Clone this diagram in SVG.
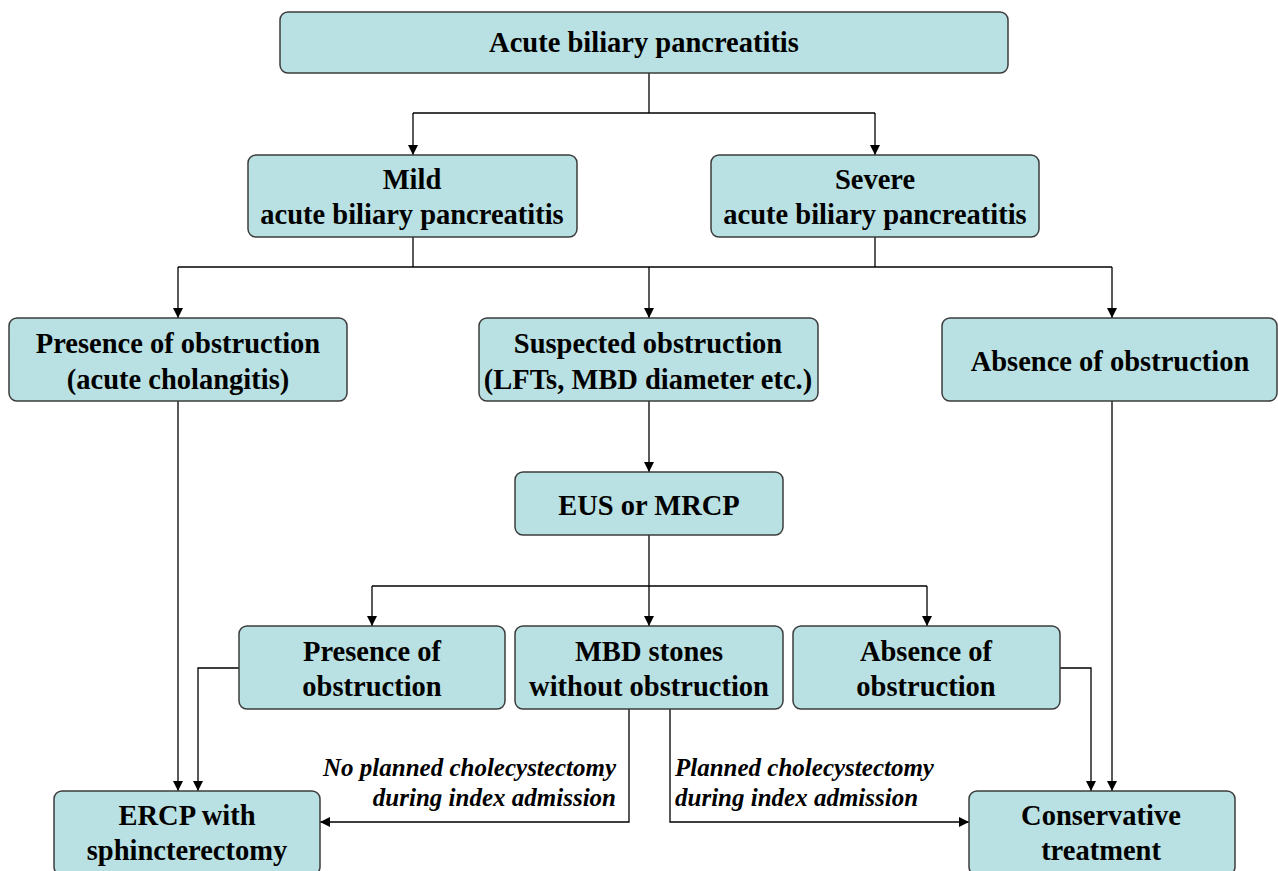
<svg xmlns="http://www.w3.org/2000/svg" width="1278" height="871" viewBox="0 0 1278 871">
<defs>
<marker id="arr" viewBox="0 0 10 10" refX="10" refY="5" markerWidth="10" markerHeight="10" markerUnits="userSpaceOnUse" orient="auto">
<path d="M0,0 L10,5 L0,10 Z" fill="#000"/>
</marker>
<style>
.box{fill:#b9e0e2;stroke:#3c3c3c;stroke-width:1.5}
.t{font-family:"Liberation Serif","Times New Roman",serif;font-weight:bold;font-size:28.5px;fill:#000;text-anchor:middle}
.lab{font-family:"Liberation Serif","Times New Roman",serif;font-weight:bold;font-style:italic;font-size:25px;fill:#000}
.c{fill:none;stroke:#000;stroke-width:1.3}
</style>
</defs>
<rect width="1278" height="871" fill="#fff"/>
<g id="connectors">
<path class="c" d="M649,73 V113"/>
<path class="c" d="M413,113 H875"/>
<path class="c" d="M413,113 V155" marker-end="url(#arr)"/>
<path class="c" d="M875,113 V155" marker-end="url(#arr)"/>
<path class="c" d="M413,237 V267"/>
<path class="c" d="M875,237 V267"/>
<path class="c" d="M178,267 H1112"/>
<path class="c" d="M178,267 V318" marker-end="url(#arr)"/>
<path class="c" d="M649,267 V318" marker-end="url(#arr)"/>
<path class="c" d="M1112,267 V318" marker-end="url(#arr)"/>
<path class="c" d="M649,401 V472" marker-end="url(#arr)"/>
<path class="c" d="M649,535 V586"/>
<path class="c" d="M372,586 H927"/>
<path class="c" d="M372,586 V626" marker-end="url(#arr)"/>
<path class="c" d="M649,586 V626" marker-end="url(#arr)"/>
<path class="c" d="M927,586 V626" marker-end="url(#arr)"/>
<path class="c" d="M178,401 V791" marker-end="url(#arr)"/>
<path class="c" d="M239,668 H198 V791" marker-end="url(#arr)"/>
<path class="c" d="M629,709 V822 H320" marker-end="url(#arr)"/>
<path class="c" d="M670,709 V822 H969" marker-end="url(#arr)"/>
<path class="c" d="M1060,668 H1091 V791" marker-end="url(#arr)"/>
<path class="c" d="M1112,401 V791" marker-end="url(#arr)"/>
<text class="lab" x="616" y="776" text-anchor="end">No planned cholecystectomy</text>
<text class="lab" x="616" y="806" text-anchor="end">during index admission</text>
<text class="lab" x="675" y="776">Planned cholecystectomy</text>
<text class="lab" x="675" y="806">during index admission</text>
</g>
<g id="n-acute">
<rect class="box" x="280" y="12" width="728" height="61" rx="8"/>
<text class="t" x="644" y="52">Acute biliary pancreatitis</text>
</g>
<g id="n-mild">
<rect class="box" x="248" y="155" width="329" height="82" rx="8"/>
<text class="t" x="412" y="189">Mild</text>
<text class="t" x="412" y="224">acute biliary pancreatitis</text>
</g>
<g id="n-severe">
<rect class="box" x="711" y="155" width="328" height="82" rx="8"/>
<text class="t" x="875" y="189">Severe</text>
<text class="t" x="875" y="224">acute biliary pancreatitis</text>
</g>
<g id="n-presence1">
<rect class="box" x="9" y="318" width="338" height="83" rx="8"/>
<text class="t" x="178" y="353">Presence of obstruction</text>
<text class="t" x="178" y="389">(acute cholangitis)</text>
</g>
<g id="n-suspected">
<rect class="box" x="479" y="318" width="339" height="83" rx="8"/>
<text class="t" x="648" y="353">Suspected obstruction</text>
<text class="t" x="648" y="389">(LFTs, MBD diameter etc.)</text>
</g>
<g id="n-absence1">
<rect class="box" x="942" y="318" width="335" height="83" rx="8"/>
<text class="t" x="1110" y="371">Absence of obstruction</text>
</g>
<g id="n-eus">
<rect class="box" x="515" y="472" width="268" height="63" rx="8"/>
<text class="t" x="649" y="515">EUS or MRCP</text>
</g>
<g id="n-presence2">
<rect class="box" x="239" y="626" width="266" height="83" rx="8"/>
<text class="t" x="372" y="661">Presence of</text>
<text class="t" x="372" y="696">obstruction</text>
</g>
<g id="n-mbd">
<rect class="box" x="515" y="626" width="268" height="83" rx="8"/>
<text class="t" x="649" y="661">MBD stones</text>
<text class="t" x="649" y="696">without obstruction</text>
</g>
<g id="n-absence2">
<rect class="box" x="793" y="626" width="267" height="83" rx="8"/>
<text class="t" x="926" y="661">Absence of</text>
<text class="t" x="926" y="696">obstruction</text>
</g>
<g id="n-ercp">
<rect class="box" x="54" y="791" width="266" height="84" rx="8"/>
<text class="t" x="187" y="825">ERCP with</text>
<text class="t" x="187" y="860">sphincterectomy</text>
</g>
<g id="n-conservative">
<rect class="box" x="969" y="791" width="266" height="84" rx="8"/>
<text class="t" x="1101" y="825">Conservative</text>
<text class="t" x="1101" y="860">treatment</text>
</g>
</svg>
